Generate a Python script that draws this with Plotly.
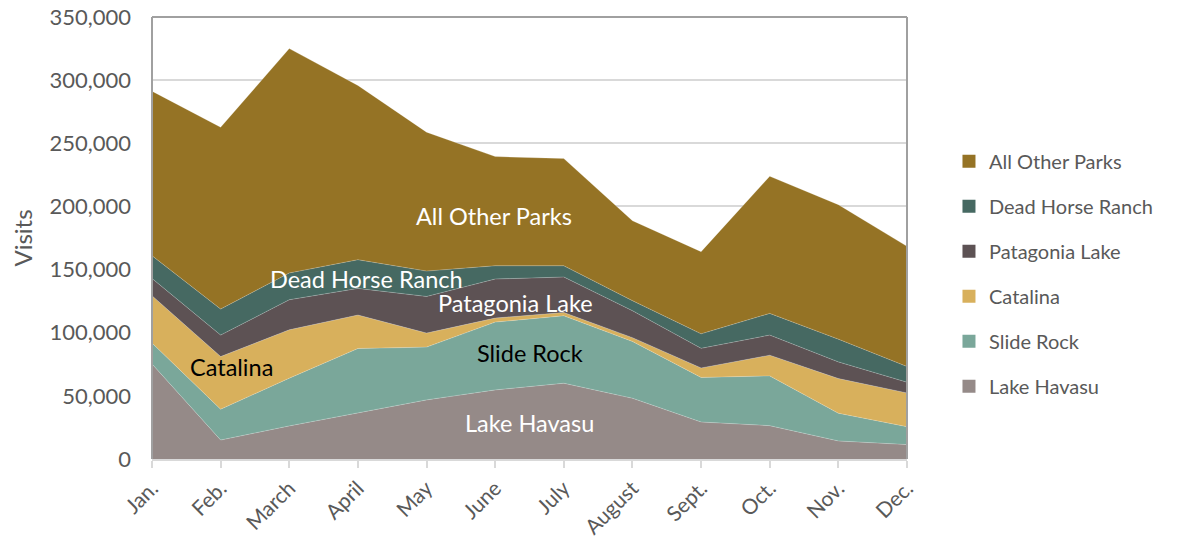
import plotly.graph_objects as go

months = ["Jan.", "Feb.", "March", "April", "May", "June", "July", "August", "Sept.", "Oct.", "Nov.", "Dec."]

lake_havasu = [75300, 15000, 26200, 36200, 46800, 54700, 60000, 48100, 29300, 26400, 14300, 11400]
slide_rock = [16500, 24400, 37800, 51300, 41800, 53700, 53400, 45000, 35300, 39400, 21900, 14200]
catalina = [37500, 41700, 38300, 26500, 11100, 3200, 2600, 3000, 7500, 16400, 27500, 26700]
patagonia_lake = [13700, 17000, 23800, 21100, 29000, 30900, 28100, 21300, 15500, 15900, 13200, 8500]
dead_horse_ranch = [18000, 20600, 21200, 22700, 20100, 10500, 8900, 8000, 11500, 17200, 18000, 12400]
all_other_parks = [130300, 144000, 177700, 138000, 110000, 86500, 84900, 63300, 65100, 108600, 106500, 95200]

series = [
    ("Lake Havasu", lake_havasu, "#958a88"),
    ("Slide Rock", slide_rock, "#7aa79a"),
    ("Catalina", catalina, "#d8b05c"),
    ("Patagonia Lake", patagonia_lake, "#5d5254"),
    ("Dead Horse Ranch", dead_horse_ranch, "#466962"),
    ("All Other Parks", all_other_parks, "#957325"),
]

FONT = "Lato, 'Open Sans', sans-serif"
fig = go.Figure()

for name, vals, col in series:
    fig.add_trace(go.Scatter(
        x=months, y=vals, name=name, stackgroup="one", mode="lines",
        line=dict(width=0.6, color="rgba(255,255,255,0.35)"), fillcolor=col,
        showlegend=False, hoverinfo="x+y+name"))

# legend entries (square swatches), top to bottom
for name, vals, col in reversed(series):
    fig.add_trace(go.Scatter(
        x=[None], y=[None], name=name, mode="markers",
        marker=dict(symbol="square", size=13, color=col),
        legendgroup=name, showlegend=True))

labels = [
    ("All Other Parks", 4.98, 192700, "white"),
    ("Dead Horse Ranch", 3.13, 142700, "white"),
    ("Patagonia Lake", 5.30, 123700, "white"),
    ("Slide Rock", 5.50, 84000, "black"),
    ("Catalina", 1.16, 73000, "black"),
    ("Lake Havasu", 5.50, 28500, "white"),
]
for txt, xx, yy, c in labels:
    fig.add_annotation(x=xx, y=yy, xref="x", yref="y", text=txt, showarrow=False,
                       font=dict(family=FONT, size=23.5, color=c))

# plot-area frame (left, top, right)
frame = "#a0a0a0"
for x0, x1, y0, y1 in [(0, 0, 0, 1), (0, 1, 1, 1), (1, 1, 0, 1)]:
    fig.add_shape(type="line", xref="x domain", yref="y domain", x0=x0, x1=x1, y0=y0, y1=y1,
                  line=dict(color=frame, width=2), layer="above")

fig.update_layout(
    width=1190, height=544,
    margin=dict(l=152, r=283, t=17, b=85),
    paper_bgcolor="white", plot_bgcolor="white",
    font=dict(family=FONT, size=20, color="#595959"),
    legend=dict(x=1.0556, y=0.419, xanchor="left", yanchor="middle",
                font=dict(size=20, color="#595959"), tracegroupgap=16,
                itemwidth=30),
    xaxis=dict(type="category", range=[0, 11], showgrid=False, automargin=False,
               showline=True, linecolor="#d9d9d9", linewidth=1.5,
               ticks="outside", ticklen=7, tickcolor="#d9d9d9", tickwidth=1.5,
               tickangle=-45, tickfont=dict(size=21, color="#595959"),
               ticklabeloverflow="allow"),
    yaxis=dict(range=[0, 350000], dtick=50000, tickformat=",d", automargin=False,
               showgrid=True, gridcolor="#d9d9d9", gridwidth=1.5,
               zeroline=False, ticks="", ticklabelstandoff=20,
               ticklabeloverflow="allow",
               tickfont=dict(size=22, color="#595959"),
               title=dict(text="Visits", font=dict(size=24, color="#595959"), standoff=10)),
)

# remove the browser's default 8px page margin so the figure fills the window exactly
fig.write_html("out.html", config={"displayModeBar": False},
               post_script="document.body.style.margin='0';")
